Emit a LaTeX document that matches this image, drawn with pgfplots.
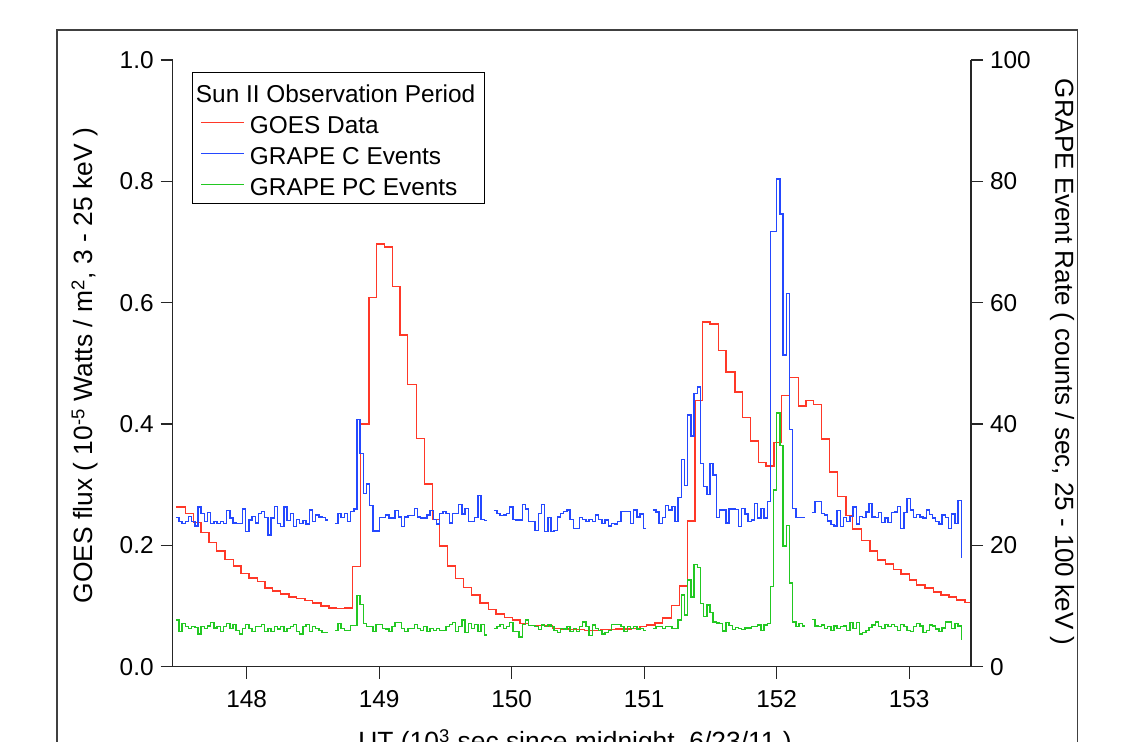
\documentclass[border=0pt]{standalone}
\usepackage{fontspec}
\setmainfont{Liberation Sans}
\usepackage{pgfplots}
\usepackage{pgfplotstable}
\pgfplotsset{compat=1.18}
\definecolor{goesred}{RGB}{255,56,40}
\definecolor{grapeblue}{RGB}{36,72,255}
\definecolor{grapegreen}{RGB}{34,200,34}

\pgfplotstableread{
x y
147.467 0.263
147.540 0.253
147.598 0.238
147.656 0.221
147.715 0.205
147.774 0.191
147.837 0.177
147.900 0.166
147.958 0.154
148.018 0.146
148.081 0.140
148.139 0.130
148.197 0.125
148.257 0.120
148.320 0.115
148.378 0.112
148.441 0.109
148.499 0.105
148.562 0.100
148.622 0.097
148.680 0.0955
148.743 0.097
148.801 0.165
148.861 0.400
148.924 0.609
148.982 0.697
149.039 0.692
149.100 0.627
149.158 0.547
149.216 0.465
149.284 0.376
149.344 0.301
149.405 0.243
149.454 0.199
149.518 0.166
149.578 0.145
149.635 0.131
149.699 0.118
149.762 0.105
149.824 0.094
149.882 0.087
149.945 0.081
150.005 0.077
150.063 0.071
150.126 0.068
150.189 0.0675
150.247 0.067
150.310 0.063
150.371 0.062
150.431 0.061
150.491 0.061
150.549 0.060
150.609 0.060
150.669 0.061
150.728 0.061
150.788 0.062
150.847 0.062
150.906 0.063
150.969 0.066
151.020 0.069
151.082 0.072
151.140 0.080
151.208 0.101
151.266 0.133
151.326 0.240
151.384 0.439
151.442 0.568
151.497 0.565
151.560 0.521
151.618 0.486
151.686 0.453
151.744 0.411
151.805 0.372
151.862 0.337
151.920 0.331
151.981 0.370
152.038 0.447
152.096 0.477
152.164 0.430
152.222 0.439
152.277 0.432
152.340 0.375
152.398 0.321
152.461 0.281
152.524 0.249
152.574 0.227
152.642 0.208
152.705 0.191
152.763 0.176
152.823 0.169
152.881 0.160
152.939 0.153
153.002 0.143
153.057 0.135
153.120 0.130
153.183 0.123
153.241 0.118
153.301 0.115
153.359 0.110
153.422 0.106
153.482 0.106
}\goes

\pgfplotstableread{
x c pc
147.465 24.6 7.7
147.489 23.9 5.8
147.513 23.6 7.1
147.537 23.9 6.6
147.561 24.8 6.3
147.585 23.9 6.6
147.609 23.2 6.5
147.633 26.3 5.4
147.657 25.3 6.6
147.681 23.9 6.3
147.705 25.4 6.7
147.729 23.6 7.3
147.753 23.9 6.4
147.777 23.6 6.6
147.801 23.9 5.8
147.825 23.6 6.6
147.849 25.7 7.1
147.873 24.5 6.3
147.897 23.7 7.0
147.921 23.6 6.0
147.945 23.6 5.4
147.969 26.0 6.3
147.993 22.3 7.0
148.017 24.2 6.3
148.041 24.8 5.8
148.065 23.7 6.6
148.089 25.3 6.6
148.113 25.6 7.0
148.137 24.6 5.8
148.161 21.7 6.3
148.185 24.5 5.8
148.209 26.4 6.6
148.233 23.6 6.2
148.257 23.1 6.6
148.281 26.3 5.8
148.305 24.1 6.3
148.329 25.3 6.6
148.353 23.1 7.0
148.377 24.3 5.8
148.401 23.6 5.4
148.425 24.1 6.6
148.449 23.5 7.0
148.473 25.8 5.8
148.497 23.9 6.6
148.521 25.0 6.3
148.545 24.7 6.0
148.569 24.6 5.6
148.593 24.2 5.6
148.617 24.2 5.6
148.640 nan nan
148.665 23.6 6.0
148.689 25.3 7.1
148.713 24.6 6.3
148.737 25.3 6.0
148.761 23.9 6.0
148.785 25.6 6.8
148.809 26.0 6.8
148.833 40.7 11.7
148.857 35.1 10.3
148.881 28.5 7.1
148.905 30.1 6.6
148.929 26.6 6.6
148.953 22.4 5.8
148.977 22.4 7.0
149.001 24.6 7.0
149.025 24.6 6.3
149.049 25.0 6.2
149.073 24.5 5.8
149.097 24.5 6.6
149.121 25.7 7.3
149.145 24.7 7.3
149.169 23.1 6.3
149.193 24.7 5.8
149.217 24.9 6.3
149.241 24.9 6.3
149.265 26.1 7.0
149.289 24.7 6.3
149.313 24.5 6.0
149.337 24.5 6.6
149.361 25.0 5.8
149.385 25.7 6.3
149.409 24.3 6.0
149.433 23.5 6.3
149.457 25.3 6.0
149.481 25.6 6.0
149.505 25.3 6.6
149.529 23.7 7.0
149.553 25.3 7.3
149.577 25.3 5.8
149.601 26.7 6.6
149.625 25.2 7.7
149.649 26.1 5.6
149.673 23.9 7.1
149.697 23.9 6.3
149.721 24.6 7.0
149.745 28.2 5.8
149.769 24.3 7.0
149.793 24.1 5.2
149.817 24.1 5.2
149.840 nan nan
149.865 25.7 6.3
149.889 25.3 6.6
149.913 24.9 7.0
149.937 25.0 6.3
149.961 25.3 6.6
149.985 26.3 7.3
150.009 24.3 5.8
150.033 24.2 5.8
150.057 24.2 4.9
150.081 26.7 7.0
150.105 26.0 7.7
150.129 23.9 6.8
150.153 23.9 6.8
150.177 22.5 6.6
150.201 25.3 6.1
150.225 26.7 6.9
150.249 22.3 6.6
150.273 24.6 6.9
150.297 22.3 6.6
150.321 22.5 6.0
150.345 24.7 5.6
150.369 25.3 6.3
150.393 25.6 6.2
150.417 25.8 6.6
150.441 24.3 5.8
150.465 22.8 6.3
150.489 22.8 5.8
150.513 24.6 6.6
150.537 24.3 7.4
150.561 23.9 6.6
150.585 24.3 5.1
150.609 23.9 6.9
150.633 25.0 6.3
150.657 24.3 6.0
150.681 23.6 5.4
150.705 24.2 5.6
150.729 23.2 6.0
150.753 23.6 7.0
150.777 23.5 7.0
150.801 23.9 7.0
150.825 25.6 6.6
150.849 25.6 5.8
150.873 25.6 6.6
150.897 23.6 6.3
150.921 25.8 6.6
150.945 24.7 6.2
150.969 25.2 6.3
150.993 22.8 6.0
151.017 22.8 6.0
151.040 nan nan
151.065 25.8 6.3
151.089 25.5 6.6
151.113 23.6 6.6
151.137 24.6 6.3
151.161 26.6 6.6
151.185 25.8 6.6
151.209 26.4 6.3
151.233 23.9 6.3
151.257 27.9 7.7
151.281 34.2 11.8
151.305 29.9 8.5
151.329 41.5 14.3
151.353 38.0 11.5
151.377 45.0 16.8
151.401 46.1 16.4
151.425 33.5 10.4
151.449 29.7 8.3
151.473 28.4 10.2
151.497 33.5 8.9
151.521 31.6 7.4
151.545 24.6 7.2
151.569 25.8 7.1
151.593 25.8 5.9
151.617 23.7 7.3
151.641 26.0 6.8
151.665 26.0 6.1
151.689 25.9 6.5
151.713 23.1 6.3
151.737 26.1 6.1
151.761 25.2 6.4
151.785 23.9 6.4
151.809 24.2 6.6
151.833 26.9 6.6
151.857 24.5 6.9
151.881 26.1 6.0
151.905 24.5 6.9
151.929 27.2 7.1
151.953 71.7 13.2
151.977 71.7 29.1
152.001 80.4 41.8
152.025 74.6 36.5
152.049 51.4 19.9
152.073 61.5 23.3
152.097 39.1 13.8
152.121 26.1 7.4
152.145 24.6 6.6
152.169 24.6 7.1
152.193 24.6 6.7
152.217 24.6 6.7
152.240 nan nan
152.265 25.4 7.8
152.289 27.2 6.7
152.313 27.2 6.6
152.337 25.3 6.9
152.361 25.0 6.3
152.385 24.0 6.6
152.409 23.4 6.0
152.433 23.2 6.7
152.457 25.7 6.3
152.481 23.1 6.6
152.505 24.6 6.7
152.529 23.9 6.0
152.553 24.8 7.3
152.577 26.3 6.3
152.601 23.5 7.3
152.625 24.8 5.4
152.649 24.6 5.6
152.673 25.5 6.0
152.697 26.9 6.5
152.721 24.7 6.9
152.745 24.6 7.4
152.769 25.4 6.6
152.793 23.8 6.3
152.817 24.5 7.0
152.841 23.8 6.6
152.865 25.4 7.0
152.889 25.5 6.6
152.913 26.4 6.0
152.937 22.8 7.0
152.961 25.4 6.6
152.985 27.7 6.0
153.009 25.8 5.8
153.033 24.6 6.6
153.057 25.1 7.1
153.081 24.7 6.7
153.105 24.5 5.6
153.129 25.8 6.0
153.153 25.1 6.9
153.177 24.5 6.7
153.201 23.9 6.2
153.225 23.5 5.8
153.249 25.0 6.4
153.273 24.6 7.4
153.297 22.8 7.4
153.321 25.2 6.3
153.345 23.6 7.1
153.369 27.4 6.7
153.393 17.9 4.4
}\grape

\pgfplotsset{
  commonax/.style={
    at={(86.35pt,37.15pt)}, anchor=south west,
    scale only axis, width=399.15pt, height=303.35pt,
    xmin=147.442, xmax=153.467,
    axis line style={-, line width=0.6pt, black!85},
    tick align=outside, major tick length=6pt,
    tick style={line width=0.6pt, black!85},
    /pgf/number format/assume math mode=true,
    unbounded coords=jump,
    scaled y ticks=false, scaled x ticks=false,
  }
}

\begin{document}
\begin{tikzpicture}[font=\fontsize{12.2}{14.5}\selectfont]
\draw[line width=0.6pt, black!75] (28.5pt,-30pt) rectangle (538.75pt,355.5pt);
\begin{axis}[commonax,
  ymin=0, ymax=1,
  axis x line*=bottom, axis y line*=left,
  xtick={148,149,150,151,152,153},
  ytick={0,0.2,0.4,0.6,0.8,1},
  yticklabel style={/pgf/number format/.cd, fixed, fixed zerofill, precision=1},
  xticklabel style={yshift=-2.5pt},
  ylabel={GOES flux ( 10\textsuperscript{-5} Watts / m\textsuperscript{2}, 3 - 25 keV )},
  every axis y label/.style={at={(axis description cs:-0.11,0.496)}, anchor=center, rotate=90, font=\fontsize{13.2}{15}\selectfont},
  xlabel={UT (10\textsuperscript{3} sec since midnight, 6/23/11 )},
  every axis x label/.style={at={(axis description cs:0.504,0)}, anchor=base, yshift=-42pt, font=\fontsize{13.2}{15}\selectfont},
]
\addplot[const plot, goesred, line width=0.7pt] table[x=x,y=y]{\goes};
\end{axis}
\begin{axis}[commonax,
  ymin=0, ymax=100,
  axis x line=none, axis y line*=right,
  xtick=\empty,
  ytick={0,20,40,60,80,100},
  ylabel={GRAPE Event Rate ( counts / sec, 25 - 100 keV )},
  every axis y label/.style={at={(axis description cs:1.114,0.502)}, anchor=center, rotate=-90, font=\fontsize{13}{15}\selectfont},
  legend style={at={(0.0242,0.980)}, anchor=north west, draw=black, line width=0.5pt,
    fill=white, inner xsep=4pt, inner ysep=1pt, row sep=-1.5pt,
    cells={anchor=west}, nodes={inner sep=0.5pt, text height=13.35pt, text depth=2.65pt}},
  legend cell align=left,
  legend image code/.code={\draw[#1] (0pt,0pt) -- (21.5pt,0pt); \path (23.5pt,0pt);},
]
\addlegendimage{empty legend}
\addlegendentry{\hspace{-27pt}Sun II Observation Period\hspace{-3pt}}
\addlegendimage{goesred, line width=0.7pt}
\addlegendentry{GOES Data}
\addplot[const plot, grapeblue, line width=0.7pt] table[x=x,y=c]{\grape};
\addlegendentry{GRAPE C Events}
\addplot[const plot, grapegreen, line width=0.7pt] table[x=x,y=pc]{\grape};
\addlegendentry{GRAPE PC Events}
\end{axis}
\pgfresetboundingbox
\path[use as bounding box] (0,0) rectangle (567pt,370.5pt);
\end{tikzpicture}
\end{document}
